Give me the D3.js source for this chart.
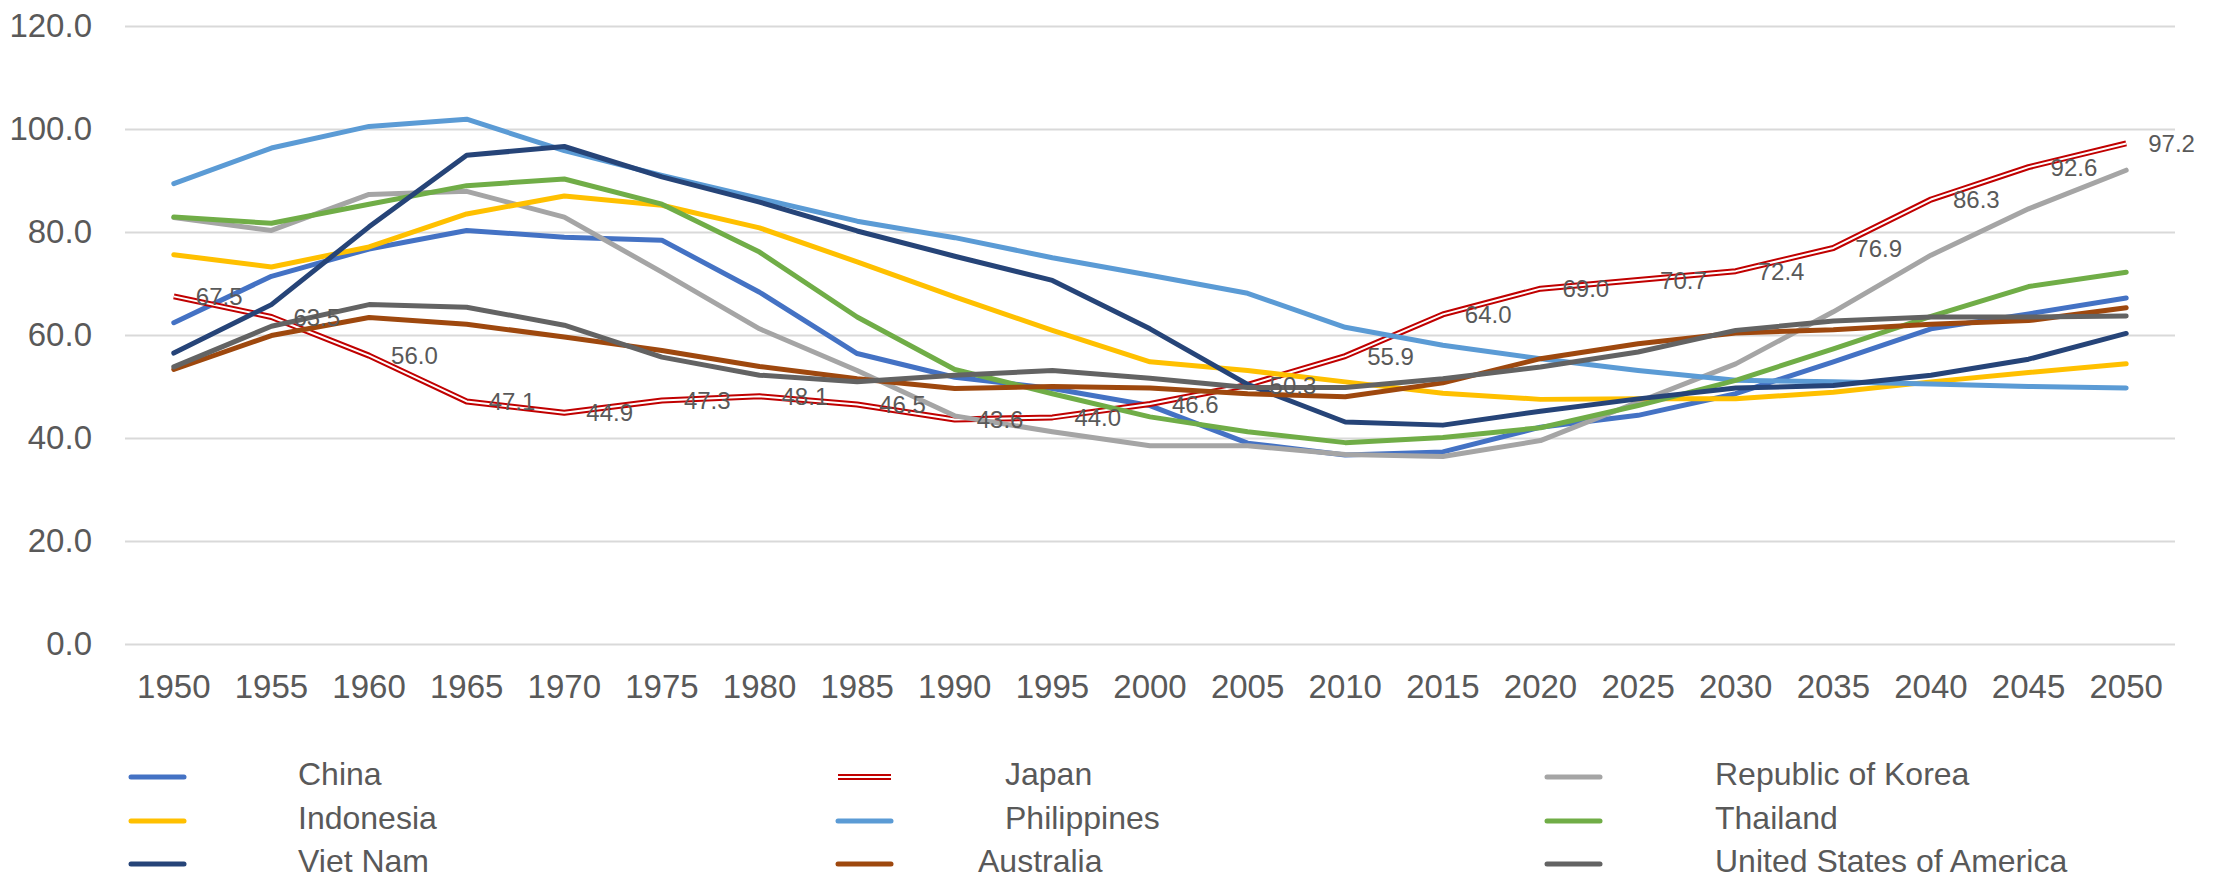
<!DOCTYPE html>
<html>
<head>
<meta charset="utf-8">
<script src="https://cdn.jsdelivr.net/npm/d3@7"></script>
<style>
  body { margin: 0; background: #fff; }
  text { font-family: "Liberation Sans", Arial, sans-serif; fill: #595959; }
</style>
</head>
<body>
<div class="chart"></div>
<script>
// DATA
var years = ['1950','1955','1960','1965','1970','1975','1980','1985','1990','1995','2000',
             '2005','2010','2015','2020','2025','2030','2035','2040','2045','2050']

var china       = [62.4,71.4,76.7,80.3,79.0,78.4,68.3,56.4,51.8,49.6,46.3,39.0,36.7,37.3,42.1,44.4,48.6,54.8,61.2,64.1,67.2]
var japan       = [67.5,63.5,56.0,47.1,44.9,47.3,48.1,46.5,43.6,44.0,46.6,50.3,55.9,64.0,69.0,70.7,72.4,76.9,86.3,92.6,97.2]
var korea       = [82.8,80.3,87.3,87.9,82.9,72.2,61.2,53.1,44.3,41.2,38.5,38.5,36.8,36.4,39.5,47.0,54.4,64.5,75.5,84.5,92.0]
var indonesia   = [75.6,73.2,77.1,83.5,87.0,85.2,80.8,74.2,67.4,60.9,54.8,53.1,50.9,48.7,47.5,47.6,47.6,48.9,50.9,52.7,54.4]
var philippines = [89.4,96.3,100.5,101.9,95.8,91.0,86.5,82.1,78.9,75.0,71.6,68.1,61.5,58.0,55.4,53.1,51.2,50.9,50.5,50.0,49.7]
var thailand    = [82.9,81.7,85.4,89.0,90.3,85.4,76.1,63.5,53.3,48.6,44.1,41.2,39.1,40.1,42.0,46.3,51.2,57.3,63.6,69.4,72.2]
var vietnam     = [56.5,65.9,81.0,94.9,96.6,90.7,85.8,80.2,75.3,70.6,61.2,50.4,43.1,42.5,45.2,47.6,49.7,50.2,52.2,55.3,60.3]
var australia   = [53.3,59.9,63.4,62.1,59.6,57.0,53.9,51.5,49.6,50.0,49.7,48.6,48.0,50.7,55.4,58.3,60.4,61.0,62.1,62.8,65.3]
var usa         = [53.8,61.7,65.9,65.4,61.9,55.7,52.2,50.9,52.2,53.1,51.6,49.8,49.8,51.5,53.8,56.7,60.9,62.7,63.5,63.5,63.7]

var yTicks = [0,20,40,60,80,100,120]

var series = [
  {name:'China', values:china, color:'#4472C4'},
  {name:'Japan', values:japan, color:'#C00000', dbl:true},
  {name:'Republic of Korea', values:korea, color:'#A5A5A5'},
  {name:'Indonesia', values:indonesia, color:'#FFC000'},
  {name:'Philippines', values:philippines, color:'#5B9BD5'},
  {name:'Thailand', values:thailand, color:'#70AD47'},
  {name:'Viet Nam', values:vietnam, color:'#264478'},
  {name:'Australia', values:australia, color:'#9E480E'},
  {name:'United States of America', values:usa, color:'#636363'}
]

// SVG
var w = 2222, h = 880
var svg = d3.select('.chart').append('svg')
    .attr('width', w)
    .attr('height', h)

// SCALES
var x = d3.scaleBand().domain(years).range([125, 2175])
var y = d3.scaleLinear().domain([0, 120]).range([644, 26])
var px = function(i){ return x(years[i]) + x.bandwidth()/2 }

// GRIDLINES + Y AXIS
var yAxis = d3.axisLeft(y).tickValues(yTicks)
    .tickSize(-(2175-125)).tickPadding(33)
    .tickFormat(d3.format('.1f'))

svg.append('g')
    .attr('transform', 'translate(125,0)')
    .call(yAxis)
    .call(function(g){
      g.select('.domain').remove()
      g.selectAll('.tick line').attr('stroke', '#d9d9d9').attr('stroke-width', 2)
      g.selectAll('.tick text').style('font-size', '33px').attr('fill', '#595959')
    })

// X AXIS LABELS
var xAxis = d3.axisBottom(x).tickSize(0).tickPadding(31)
svg.append('g')
    .attr('transform', 'translate(0,644)')
    .call(xAxis)
    .call(function(g){
      g.select('.domain').remove()
      g.selectAll('.tick text').style('font-size', '33px').attr('fill', '#595959')
    })

// LINES
var line = d3.line()
    .x(function(d, i){ return px(i) })
    .y(function(d){ return y(d) })

var lineg = svg.append('g').attr('class', 'lines_g')

series.forEach(function(s){
  if (s.dbl) {
    lineg.append('path').attr('d', line(s.values))
        .attr('fill', 'none').attr('stroke', s.color).attr('stroke-width', 6)
        .attr('stroke-linejoin', 'round')
    lineg.append('path').attr('d', line(s.values))
        .attr('fill', 'none').attr('stroke', '#fff').attr('stroke-width', 2)
        .attr('stroke-linejoin', 'round')
  } else {
    lineg.append('path').attr('d', line(s.values))
        .attr('fill', 'none').attr('stroke', s.color).attr('stroke-width', 5)
        .attr('stroke-linejoin', 'round').attr('stroke-linecap', 'round')
  }
})

// JAPAN DATA LABELS
svg.append('g').selectAll('text')
    .data(japan)
    .enter().append('text')
    .attr('x', function(d, i){ return px(i) + 22 })
    .attr('y', function(d){ return y(d) })
    .attr('dy', '0.36em')
    .style('font-size', '24px')
    .text(function(d){ return d3.format('.1f')(d) })

// LEGEND
var legCols = [{lx:129, tx:298}, {lx:836, tx:1005}, {lx:1545, tx:1715}]
var legRows = [777, 821, 864]
var legNudge = {'Australia': -27}

var leg = svg.append('g').attr('class', 'legend_g')
series.forEach(function(s, i){
  var c = legCols[i % 3], ry = legRows[Math.floor(i / 3)]
  var g = leg.append('g')
  if (s.dbl) {
    g.append('line').attr('x1', c.lx + 2).attr('x2', c.lx + 55).attr('y1', ry).attr('y2', ry)
        .attr('stroke', s.color).attr('stroke-width', 6)
    g.append('line').attr('x1', c.lx + 2).attr('x2', c.lx + 55).attr('y1', ry).attr('y2', ry)
        .attr('stroke', '#fff').attr('stroke-width', 2)
  } else {
    g.append('line').attr('x1', c.lx + 2).attr('x2', c.lx + 55).attr('y1', ry).attr('y2', ry)
        .attr('stroke', s.color).attr('stroke-width', 5).attr('stroke-linecap', 'round')
  }
  g.append('text')
      .attr('x', c.tx + (legNudge[s.name] || 0))
      .attr('y', ry - 3)
      .attr('dy', '0.33em')
      .style('font-size', '32px')
      .text(s.name)
})
</script>
</body>
</html>
